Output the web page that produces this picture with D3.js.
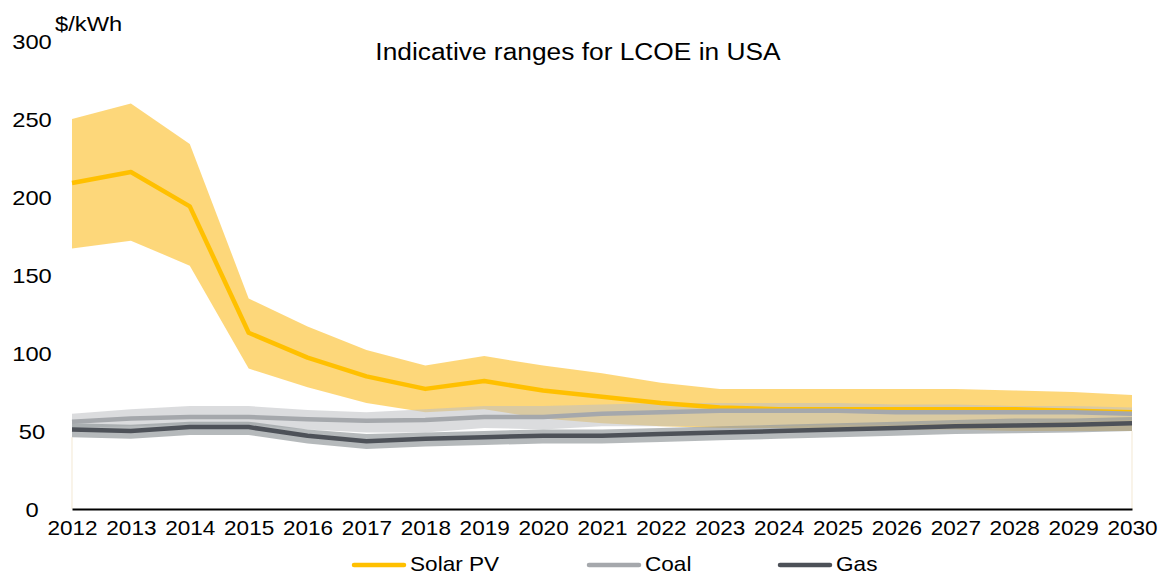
<!DOCTYPE html>
<html>
<head>
<meta charset="utf-8">
<script src="https://cdn.jsdelivr.net/npm/d3@7"></script>
<style>
  body { margin: 0; background: #fff; }
  svg text { font-family: "Liberation Sans", Arial, sans-serif; fill: #000; }
</style>
</head>
<body>
<div id="chart"></div>
<script>
// Data
const years = ["2012","2013","2014","2015","2016","2017","2018","2019","2020","2021",
               "2022","2023","2024","2025","2026","2027","2028","2029","2030"];
const yTicks = [0, 50, 100, 150, 200, 250, 300];

const solarMid  = [209, 216, 194, 113, 97, 85, 77, 82, 76, 72, 68, 65, 64, 64, 64, 64, 64, 63, 62];
const solarHigh = [250, 260, 234, 135, 117, 102, 92, 98, 92, 87, 81, 77, 77, 77, 77, 77, 76, 75, 73];
const solarLow  = [167, 172, 156, 90, 78, 68, 62, 64, 58, 55, 53, 52, 52, 51, 51, 51, 50, 50, 50];

const coalMid  = [56, 58, 59, 59, 57.5, 56.5, 57, 59, 59, 61, 62, 63, 63, 63, 62, 62, 62, 62, 61];
const coalHigh = [61, 64, 66, 66, 63.5, 62, 64, 66, 66, 67, 68, 68, 68, 68, 67, 67, 66, 66, 65];
const coalLow  = [52, 53, 54, 54, 51, 49, 49, 52, 51, 53, 53, 53, 53, 54, 54, 55, 55, 56, 57];

const gasMid  = [51, 50, 52.5, 52.5, 47, 43.5, 45, 46, 47, 47, 48, 49, 50, 51, 52, 53, 53.5, 54, 55];
const gasHigh = [55, 54, 56, 56, 51, 48, 49, 50, 51, 51, 52, 53, 54, 55, 56, 57, 58, 58, 59];
const gasLow  = [46, 45, 47.5, 47.5, 42, 38.5, 40, 41, 42, 42, 43, 44, 45, 46, 47, 48, 48.5, 49, 50];

const seriesNames = ["Solar PV", "Coal", "Gas"];

// Chart dimensions
const width = 1163;
const height = 576;
const k = 1.13; // text in the source is drawn a bit wide

const x = d3.scalePoint().domain(years).range([72, 1132]);
const y = d3.scaleLinear().domain([0, 300]).range([509, 41]);

const svg = d3.select("#chart")
  .append("svg")
  .attr("width", width)
  .attr("height", height);

// Faint edges of the (invisible) base areas
const lowest = years.map((d, i) => Math.min(solarLow[i], coalLow[i], gasLow[i]));
[0, years.length - 1].forEach(i => {
  svg.append("line")
    .attr("x1", x(years[i])).attr("x2", x(years[i]))
    .attr("y1", y(0)).attr("y2", y(lowest[i]))
    .attr("stroke", "#f5ecda")
    .attr("stroke-width", 1.2);
});

// Bands
const area = d3.area()
  .x((d, i) => x(years[i]))
  .y0(d => y(d[0]))
  .y1(d => y(d[1]));

const bands = [
  { low: solarLow, high: solarHigh, fill: "rgb(252,178,0)", op: 0.52 },
  { low: coalLow,  high: coalHigh,  fill: "rgb(190,192,195)", op: 0.55 },
  { low: gasLow,   high: gasHigh,   fill: "rgb(150,155,158)", op: 0.7 }
];
bands.forEach(b => {
  svg.append("path")
    .datum(d3.zip(b.low, b.high))
    .attr("d", area)
    .attr("fill", b.fill)
    .attr("fill-opacity", b.op);
});

// Lines
const line = d3.line()
  .x((d, i) => x(years[i]))
  .y(d => y(d));

const lineColors = ["#FFC000", "#A5A8AC", "#4D5158"];
[solarMid, coalMid, gasMid].forEach((s, i) => {
  svg.append("path")
    .datum(s)
    .attr("d", line)
    .attr("fill", "none")
    .attr("stroke", lineColors[i])
    .attr("stroke-width", 4.5)
    .attr("stroke-linejoin", "round");
});

// X axis
const xAxis = svg.append("g")
  .attr("transform", `translate(0, ${y(0)})`)
  .call(d3.axisBottom(x).tickSize(0).tickPadding(0));
xAxis.select(".domain").attr("stroke", "#000").attr("stroke-width", 2);
xAxis.selectAll("text")
  .attr("font-size", 20)
  .attr("dy", null)
  .attr("y", 26)
  .attr("transform", `scale(${k},1)`);

// Y axis
const yAxis = svg.append("g")
  .attr("transform", `translate(${x(years[0])}, 0)`)
  .call(d3.axisLeft(y).tickValues(yTicks).tickSize(0));
yAxis.select(".domain").remove();
yAxis.selectAll("text")
  .attr("font-size", 21)
  .attr("text-anchor", "middle")
  .attr("x", -40 / k)
  .attr("dy", "0.36em")
  .attr("transform", `scale(${k},1)`);

// Unit and title
svg.append("text")
  .attr("transform", `translate(55, 31) scale(${k},1)`)
  .attr("font-size", 21)
  .text("$/kWh");

svg.append("text")
  .attr("transform", `translate(578, 60) scale(${k},1)`)
  .attr("text-anchor", "middle")
  .attr("font-size", 23.3)
  .text("Indicative ranges for LCOE in USA");

// Legend
const legendX = [352, 587, 778];
const legend = svg.append("g").attr("transform", "translate(0, 565)");
seriesNames.forEach((name, i) => {
  legend.append("line")
    .attr("x1", legendX[i] + 2).attr("x2", legendX[i] + 52)
    .attr("stroke", lineColors[i])
    .attr("stroke-width", 4.5)
    .attr("stroke-linecap", "round");
  legend.append("text")
    .attr("transform", `translate(${legendX[i] + 58}, 6) scale(${k},1)`)
    .attr("font-size", 20)
    .text(name);
});
</script>
</body>
</html>
